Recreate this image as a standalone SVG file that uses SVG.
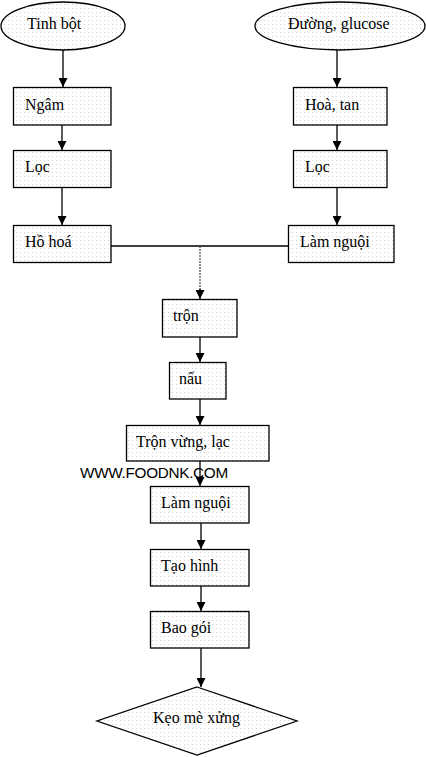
<svg xmlns="http://www.w3.org/2000/svg" width="426" height="757" viewBox="0 0 426 757">
<defs>
<pattern id="dots" width="4" height="4" patternUnits="userSpaceOnUse">
<rect width="4" height="4" fill="#ffffff"/>
<rect x="0" y="0" width="1" height="1" fill="#d4d4d4"/>
</pattern>
<marker id="arr" markerWidth="9" markerHeight="9" refX="9" refY="4.5" orient="auto" markerUnits="userSpaceOnUse">
<path d="M0,0 L9,4.5 L0,9 Z" fill="#000"/>
</marker>
</defs>
<style>
.n{fill:url(#dots);stroke:#000;stroke-width:1.3}
.t{font-family:"Liberation Serif","Times New Roman",serif;font-size:16px;fill:#000}
.c{stroke:#000;stroke-width:1.3;fill:none}
.ca{stroke:#000;stroke-width:1.3;fill:none;marker-end:url(#arr)}
</style>
<rect width="426" height="757" fill="#fff"/>
<g id="connectors">
<line class="ca" x1="63" y1="50" x2="63" y2="87"/>
<line class="ca" x1="62" y1="125" x2="62" y2="150"/>
<line class="ca" x1="62" y1="187" x2="62" y2="225"/>
<line class="ca" x1="337" y1="50" x2="337" y2="87"/>
<line class="ca" x1="337" y1="125" x2="337" y2="150"/>
<line class="ca" x1="337" y1="187" x2="337" y2="225"/>
<line class="c" x1="111" y1="246" x2="288" y2="246"/>
<line x1="200" y1="246" x2="200" y2="290" stroke="#555" stroke-width="1.3" stroke-dasharray="2 1"/>
<line class="ca" x1="200" y1="289" x2="200" y2="299"/>
<line class="ca" x1="200" y1="337" x2="200" y2="362"/>
<line class="ca" x1="200" y1="399" x2="200" y2="425"/>
<line class="ca" x1="200" y1="461" x2="200" y2="486"/>
<line class="ca" x1="201" y1="523" x2="201" y2="549"/>
<line class="ca" x1="201" y1="586" x2="201" y2="611"/>
<line class="ca" x1="201" y1="648" x2="201" y2="687"/>
</g>
<g id="tinhbot"><ellipse class="n" cx="63" cy="26" rx="62" ry="24"/><text class="t" x="27" y="29">Tinh bột</text></g>
<g id="duong"><ellipse class="n" cx="340" cy="26" rx="85" ry="24"/><text class="t" x="288" y="29">Đường, glucose</text></g>
<g id="ngam"><rect class="n" x="13.5" y="87.5" width="97.5" height="37.5"/><text class="t" x="25" y="110">Ngâm</text></g>
<g id="hoatan"><rect class="n" x="293.5" y="87.5" width="93.5" height="37.5"/><text class="t" x="305" y="110">Hoà, tan</text></g>
<g id="loc1"><rect class="n" x="13.5" y="150.5" width="97.5" height="37"/><text class="t" x="25" y="172">Lọc</text></g>
<g id="loc2"><rect class="n" x="293.5" y="150.5" width="93.5" height="37"/><text class="t" x="305" y="172">Lọc</text></g>
<g id="hohoa"><rect class="n" x="13.5" y="225.5" width="97.5" height="37"/><text class="t" x="25" y="247">Hồ hoá</text></g>
<g id="lamnguoi1"><rect class="n" x="288.5" y="225.5" width="105.5" height="37"/><text class="t" x="300" y="247">Làm nguội</text></g>
<g id="tron"><rect class="n" x="162.5" y="299.5" width="74.5" height="37.5"/><text class="t" x="173" y="321">trộn</text></g>
<g id="nau"><rect class="n" x="169.5" y="362.5" width="56.5" height="36.5"/><text class="t" x="179" y="384">nấu</text></g>
<g id="tronvung"><rect class="n" x="126.5" y="425.5" width="142.5" height="35.5"/><text class="t" x="136" y="447">Trộn vừng, lạc</text></g>
<text x="80" y="478" font-family="'Liberation Sans',Arial,sans-serif" font-size="15.3" letter-spacing="-0.3" fill="#000">WWW.FOODNK.COM</text>
<g id="lamnguoi2"><rect class="n" x="150.5" y="486.5" width="98.5" height="36.5"/><text class="t" x="161" y="508">Làm nguội</text></g>
<g id="taohinh"><rect class="n" x="150.5" y="549.5" width="98.5" height="36.5"/><text class="t" x="161" y="571">Tạo hình</text></g>
<g id="baogoi"><rect class="n" x="150.5" y="611.5" width="98.5" height="36.5"/><text class="t" x="161" y="633">Bao gói</text></g>
<g id="keo"><polygon class="n" points="197,687 297,721 197,755 97,721"/><text class="t" x="153" y="723">Kẹo mè xửng</text></g>
</svg>
